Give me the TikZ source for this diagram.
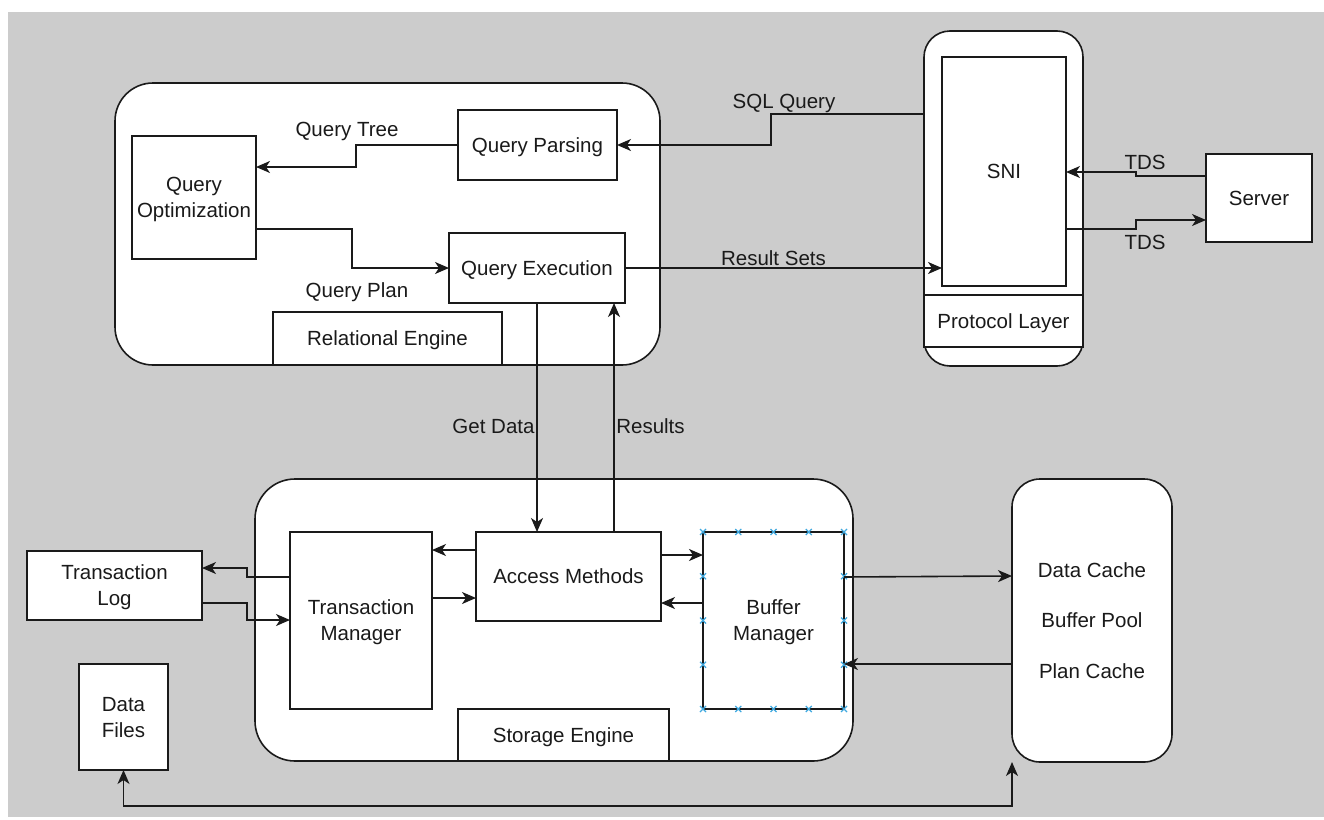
\documentclass[tikz,border=0pt]{standalone}
\usepackage{fontspec}
\setmainfont{Liberation Sans}
\usetikzlibrary{arrows.meta}
\definecolor{canvas}{HTML}{CCCCCC}
\definecolor{ink}{HTML}{1A1A1A}
\definecolor{handle}{HTML}{3FA9E0}
% line strut with the font's full ascent and descent, so every line centres alike
\newcommand\dstrut{\rule[-4.35pt]{0pt}{22.9pt}}

\begin{document}
\begin{tikzpicture}[x=1pt,y=-1pt,
  every node/.style={font=\fontsize{20.5}{26}\selectfont, text=ink},
  box/.style={draw=ink, line width=1.6pt, fill=white, rectangle,
              inner sep=0pt, outer sep=0pt, align=center},
  panel/.style={box, rounded corners=#1},
  lbl/.style={inner sep=0pt},
  link/.style={draw=ink, line width=1.6pt},
  arr/.style={link, -{Stealth[length=14pt,width=12pt,inset=4pt]}},
  biarr/.style={link, {Stealth[length=14pt,width=12pt,inset=4pt]}-{Stealth[length=14pt,width=12pt,inset=4pt]}},
  handlemark/.style={draw=handle, line width=1.1pt}
]
\useasboundingbox (0,0) rectangle (1324,819);
\fill[canvas] (8,12) rectangle (1324,817);

% containers
\node[panel=38pt, minimum width=545pt, minimum height=282pt] (releng) at (387.5,224) {};
\node[panel=26pt, minimum width=159pt, minimum height=335pt] (proto) at (1003.5,198.5) {};
\node[panel=40pt, minimum width=598pt, minimum height=282pt] (store) at (554,620) {};
\node[panel=28pt, minimum width=160pt, minimum height=283pt] (cache) at (1092,620.5)
  {\dstrut Data Cache\\[24.5pt]\dstrut Buffer Pool\\[24.5pt]\dstrut Plan Cache};

% relational engine parts
\node[box, minimum width=124pt, minimum height=123pt] (qo) at (194,197.5) {\dstrut Query\\\dstrut Optimization};
\node[box, minimum width=159pt, minimum height=70pt] (qp) at (537.5,145) {\dstrut Query Parsing};
\node[box, minimum width=176pt, minimum height=70pt] (qe) at (537,268) {\dstrut Query Execution};
\node[box, minimum width=229pt, minimum height=53pt] (relLbl) at (387.5,338.5) {\dstrut Relational Engine};

% protocol layer parts
\node[box, minimum width=124pt, minimum height=229pt] (sni) at (1004,171.5) {\dstrut SNI};
\node[box, minimum width=159pt, minimum height=52pt] (protoLbl) at (1003.5,321) {\dstrut Protocol Layer};
\node[box, minimum width=106pt, minimum height=88pt] (server) at (1259,198) {\dstrut Server};

% storage engine parts
\node[box, minimum width=142pt, minimum height=177pt] (tm) at (361,620.5) {\dstrut Transaction\\\dstrut Manager};
\node[box, minimum width=185pt, minimum height=89pt] (am) at (568.5,576.5) {\dstrut Access Methods};
\node[box, minimum width=141pt, minimum height=177pt] (bm) at (773.5,620.5) {\dstrut Buffer\\\dstrut Manager};
\node[box, minimum width=211pt, minimum height=52pt] (storeLbl) at (563.5,735) {\dstrut Storage Engine};

% files
\node[box, minimum width=175pt, minimum height=69pt] (tl) at (114.5,585.5) {\dstrut Transaction\\\dstrut Log};
\node[box, minimum width=89pt, minimum height=106pt] (df) at (123.5,717) {\dstrut Data\\\dstrut Files};

% selection handles on the buffer manager
\foreach \hx in {703,738.25,773.5,808.75,844} {
  \foreach \hy in {532,709} {
    \draw[handlemark] (\hx-3,\hy-3) -- (\hx+3,\hy+3) (\hx-3,\hy+3) -- (\hx+3,\hy-3);
  }
}
\foreach \hy in {576.25,620.5,664.75} {
  \foreach \hx in {703,844} {
    \draw[handlemark] (\hx-3,\hy-3) -- (\hx+3,\hy+3) (\hx-3,\hy+3) -- (\hx+3,\hy-3);
  }
}

% query flow
\draw[arr] (proto.west |- 0,114) -- (771,114) -- (771,145) -- (qp.east);
\node[lbl] (lSql) at (784,101) {\dstrut SQL Query};
\draw[arr] (qp.west) -- (356,145) -- (356,167) -- (qo.east |- 0,167);
\node[lbl] (lTree) at (347,129) {\dstrut Query Tree};
\draw[arr] (qo.east |- 0,229) -- (352,229) -- (352,268) -- (qe.west);
\node[lbl] (lPlan) at (357,290) {\dstrut Query Plan};
\draw[arr] (qe.east) -- (sni.west |- qe.east);
\node[lbl] (lRes) at (773.5,258) {\dstrut Result Sets};

% TDS traffic
\draw[arr] (server.west |- 0,176) -- (1136,176) -- (1136,172) -- (sni.east |- 0,172);
\node[lbl] (lTds1) at (1145,162) {\dstrut TDS};
\draw[arr] (sni.east |- 0,229) -- (1136,229) -- (1136,220) -- (server.west |- 0,220);
\node[lbl] (lTds2) at (1145,242) {\dstrut TDS};

% engine to storage
\draw[arr] (qe.south) -- (am.north -| qe.south);
\node[lbl] (lGet) at (493.5,426) {\dstrut Get Data};
\draw[arr] (am.north -| 614,0) -- (qe.south -| 614,0);
\node[lbl] (lBack) at (650.5,426) {\dstrut Results};

% inside the storage engine
\draw[arr] (am.west |- 0,550) -- (tm.east |- 0,550);
\draw[arr] (tm.east |- 0,598) -- (am.west |- 0,598);
\draw[arr] (am.east |- 0,555) -- (bm.west |- 0,555);
\draw[arr] (bm.west |- 0,603) -- (am.east |- 0,603);

% buffer manager and caches
\draw[arr] (bm.east |- 0,577) -- (cache.west |- 0,576);
\draw[arr] (cache.west |- 0,664) -- (bm.east |- 0,664);

% transaction log
\draw[arr] (tm.west |- 0,577) -- (247,577) -- (247,568) -- (tl.east |- 0,568);
\draw[arr] (tl.east |- 0,603) -- (247,603) -- (247,620) -- (tm.west |- 0,620);

% data files and caches
\draw[biarr] (df.south) -- (df.south |- 0,806) -- (cache.south west |- 0,806) -- (cache.south west);
\end{tikzpicture}
\end{document}
